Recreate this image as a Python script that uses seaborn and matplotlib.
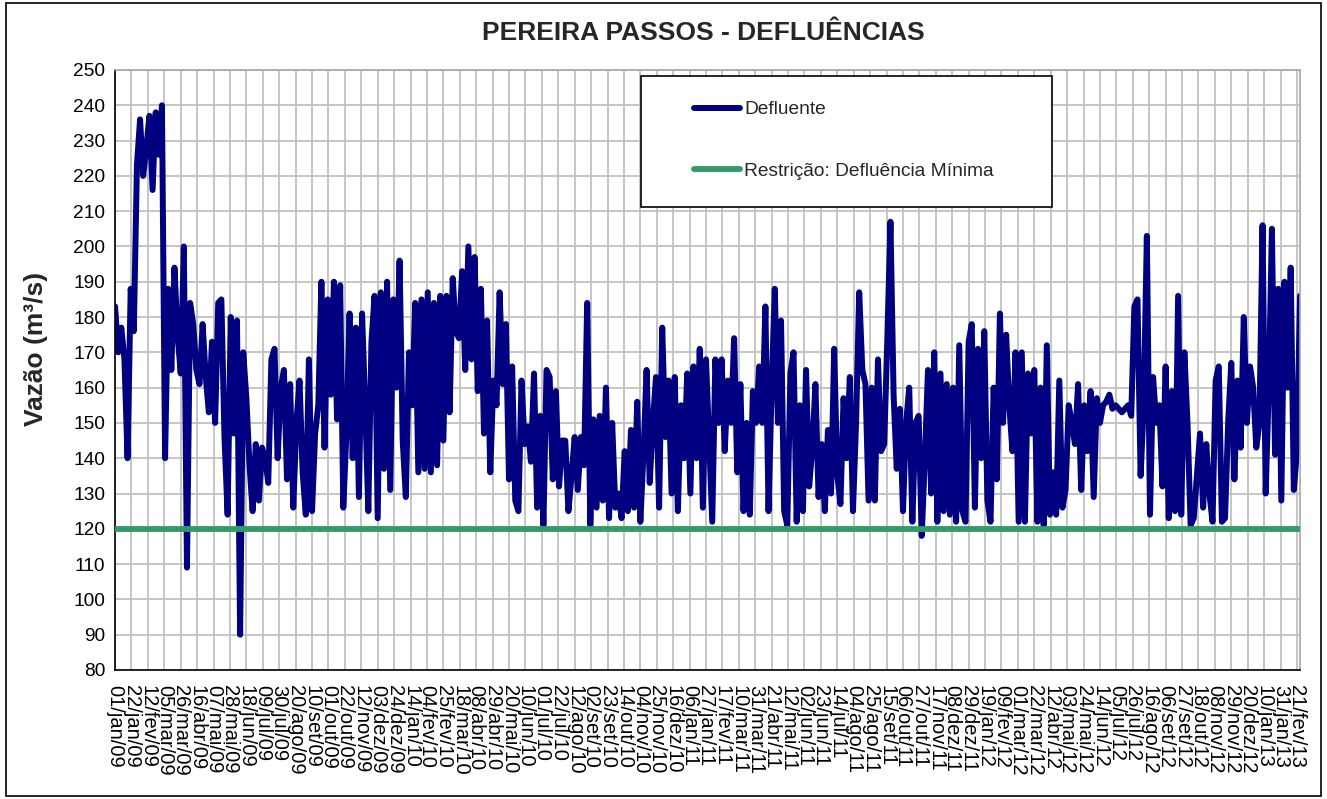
import matplotlib
matplotlib.use("Agg")
import numpy as np
import pandas as pd
import matplotlib.pyplot as plt
import matplotlib.dates as mdates
from matplotlib.ticker import MultipleLocator, FuncFormatter
from matplotlib.patches import Rectangle
import seaborn as sns

# ---------------- data (one value every 4 days) ----------------
inicio = "2009-01-01"
passo_dias = 4

# 01/jan/09 .. 31/jan/10
defluente_parte1 = [
    183, 170, 177, 168, 140, 188, 176, 223, 236, 220,
    228, 237, 216, 238, 226, 240, 140, 188, 165, 194,
    175, 164, 200, 109, 184, 178, 165, 161, 178, 163,
    153, 173, 150, 184, 185, 146, 124, 180, 147, 179,
    90, 170, 157, 138, 125, 144, 128, 143, 140, 133,
    168, 171, 140, 160, 165, 134, 161, 126, 150, 162,
    136, 124, 168, 125, 147, 155, 190, 143, 185, 158,
    190, 151, 189, 126, 147, 181, 140, 177, 129, 181,
    155, 125, 173, 186, 123, 187, 137, 190, 131, 185,
    160, 196, 145, 129, 170, 155, 184, 136, 185, 137,
]
# 05/fev/10 .. 07/mar/11
defluente_parte2 = [
    187, 136, 184, 138, 186, 145, 186, 153, 191, 176,
    174, 193, 165, 200, 168, 197, 159, 188, 147, 179,
    136, 162, 155, 187, 161, 178, 134, 166, 128, 125,
    162, 144, 149, 139, 164, 126, 152, 121, 165, 163,
    134, 159, 132, 145, 145, 125, 135, 146, 131, 146,
    138, 184, 121, 151, 126, 152, 128, 160, 123, 150,
    126, 130, 123, 142, 125, 148, 126, 156, 122, 141,
    165, 133, 150, 163, 126, 177, 146, 162, 130, 163,
    125, 155, 140, 164, 130, 166, 140, 171, 126, 168,
    145, 122, 168, 150, 168, 142, 162, 150, 174, 136,
]
# 11/mar/11 .. 10/abr/12
defluente_parte3 = [
    161, 125, 150, 124, 159, 150, 166, 150, 183, 125,
    160, 188, 150, 179, 125, 121, 164, 170, 122, 155,
    125, 165, 132, 143, 161, 129, 144, 125, 148, 130,
    171, 135, 127, 157, 140, 163, 125, 150, 187, 165,
    161, 128, 160, 128, 168, 142, 144, 174, 207, 158,
    137, 154, 125, 150, 160, 122, 150, 152, 118, 140,
    165, 130, 170, 122, 164, 125, 161, 124, 160, 122,
    172, 125, 122, 173, 178, 126, 171, 140, 176, 128,
    122, 160, 134, 181, 150, 175, 155, 142, 170, 122,
    170, 122, 164, 147, 165, 122, 160, 121, 172, 124,
]
# 15/abr/12 .. 25/fev/13
defluente_parte4 = [
    136, 124, 162, 126, 131, 155, 150, 144, 161, 131,
    155, 142, 159, 129, 157, 150, 155, 156, 158, 154,
    155, 154, 153, 154, 155, 152, 183, 185, 135, 155,
    203, 124, 163, 150, 155, 132, 166, 123, 159, 125,
    186, 124, 170, 150, 121, 123, 135, 147, 126, 144,
    130, 122, 162, 166, 122, 123, 150, 167, 134, 162,
    143, 180, 150, 166, 160, 143, 150, 206, 130, 160,
    205, 141, 188, 128, 190, 160, 194, 131, 142, 186,
]
restricao_minima = 120

# axis / labels
meses_pt = ["jan", "fev", "mar", "abr", "mai", "jun",
            "jul", "ago", "set", "out", "nov", "dez"]
intervalo_ticks_dias = 21
y_min, y_max, y_passo = 80, 250, 10
titulo = "PEREIRA PASSOS - DEFLUÊNCIAS"
rotulo_y = "Vazão (m³/s)"
nome_defluente = "Defluente"
nome_restricao = "Restrição: Defluência Mínima"

# ---------------- build table ----------------
vazao = defluente_parte1 + defluente_parte2 + defluente_parte3 + defluente_parte4
datas = pd.date_range(inicio, periods=len(vazao), freq=f"{passo_dias}D")
df = pd.DataFrame({"data": datas, "vazao": vazao})
df["restricao"] = restricao_minima

# ---------------- style ----------------
sns.set_style("white")
plt.rcParams["font.family"] = ["Liberation Sans", "DejaVu Sans"]

fig, ax = plt.subplots(figsize=(13.27, 7.99), dpi=100)
fig.subplots_adjust(left=0.0867, right=0.9797, bottom=0.1615, top=0.9124)

sns.lineplot(data=df, x="data", y="vazao", ax=ax, color="#000080", linewidth=4.3,
             estimator=None, label=nome_defluente, legend=False, zorder=2,
             solid_joinstyle="round", solid_capstyle="round")
sns.lineplot(data=df, x="data", y="restricao", ax=ax, color="#339966", linewidth=4.2,
             estimator=None, label=nome_restricao, legend=False, zorder=3,
             solid_capstyle="butt")

ax.set_xlim(df["data"].iloc[0], df["data"].iloc[-1])
ax.set_ylim(y_min, y_max)
ax.yaxis.set_major_locator(MultipleLocator(y_passo))

ticks = pd.date_range(inicio, df["data"].iloc[-1], freq=f"{intervalo_ticks_dias}D")
ax.set_xticks(ticks)


def fmt_data(x, pos=None):
    d = mdates.num2date(x)
    return f"{d.day:02d}/{meses_pt[d.month - 1]}/{d.year % 100:02d}"


ax.xaxis.set_major_formatter(FuncFormatter(fmt_data))
ax.set_xlabel("")
ax.set_ylabel("")

ax.grid(True, color="#c0c0c0", linewidth=1.3)
ax.set_axisbelow(True)

for s in ["left", "bottom"]:
    ax.spines[s].set_color("black")
    ax.spines[s].set_linewidth(1.2)
for s in ["top", "right"]:
    ax.spines[s].set_color("#a6a6a6")
    ax.spines[s].set_linewidth(1.2)

ax.tick_params(axis="both", direction="out", length=5, width=1.2, color="black",
               labelcolor="black")
ax.tick_params(axis="y", pad=2, labelsize=13.8)
ax.tick_params(axis="x", pad=6, labelsize=14.5)
for lab in ax.get_xticklabels():
    lab.set_rotation(-90)
    lab.set_ha("center")
    lab.set_va("top")

# title and y label
fig.text(0.5298, 0.9587, titulo, ha="center", va="center", fontsize=19,
         fontweight="bold")
fig.text(0.0271, 0.563, rotulo_y, rotation=90, ha="center", va="center",
         fontsize=19, fontweight="bold")

# legend box and legend
ax.add_patch(Rectangle((0.4436, 0.772), 0.3468, 0.2185, transform=ax.transAxes,
                       facecolor="white", edgecolor="black", linewidth=1.2, zorder=4))
handles, labels = ax.get_legend_handles_labels()
leg = ax.legend(handles, labels, loc="center left", bbox_to_anchor=(0.4886, 0.8825),
                frameon=False, fontsize=13.8, handlelength=2.4, handletextpad=0.2,
                labelspacing=2.3, borderpad=0, borderaxespad=0)
leg.set_zorder(5)
for h in leg.get_lines():
    h.set_solid_capstyle("round")

# outer frame of the chart
fig.patches.append(Rectangle((6 / 1327, 3 / 799), 1315 / 1327, 793 / 799,
                             transform=fig.transFigure, fill=False,
                             edgecolor="black", linewidth=1.2))

fig.savefig("out.png", dpi=100)
